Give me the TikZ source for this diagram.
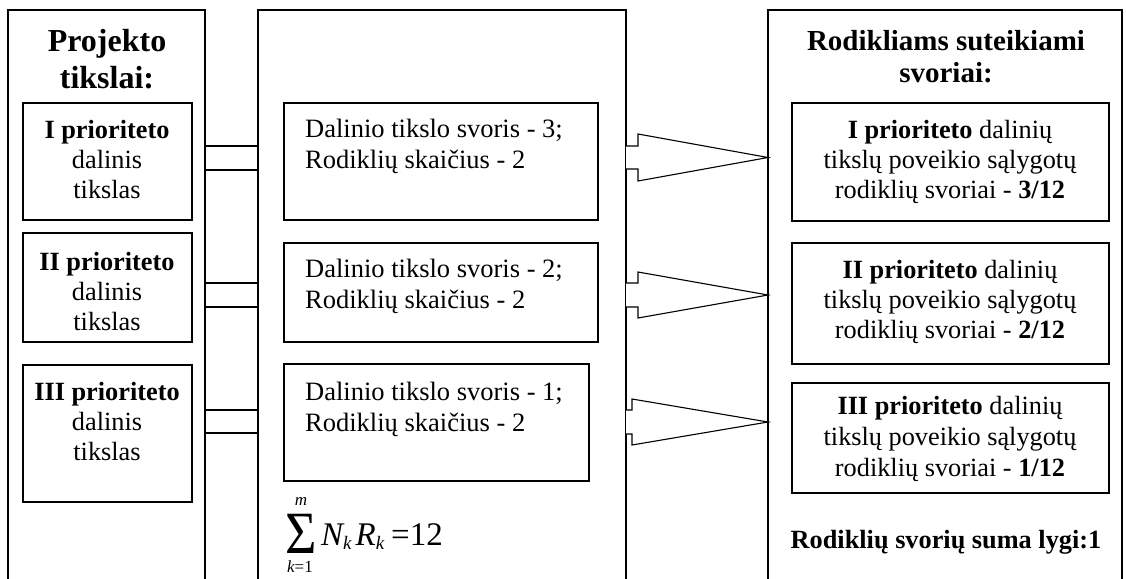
\documentclass[tikz,border=0pt]{standalone}
\usepackage{fontspec}
\setmainfont{Liberation Serif}
\usepackage{graphicx}
\usetikzlibrary{fit,calc}

\tikzset{
  x=1pt, y=-1pt,
  rule/.style={draw=black, line width=1.1pt, line join=miter},
  panel/.style={draw=none, inner sep=0pt, outer sep=0pt},
  cell/.style={rule, inner sep=0pt, outer sep=0pt},
  headtext/.style={inner sep=0pt, anchor=base, align=center, font=\fontsize{32}{36}\selectfont\bfseries},
  righthead/.style={inner sep=0pt, anchor=base, align=center, font=\fontsize{29}{32}\selectfont\bfseries},
  celltext/.style={inner sep=0pt, anchor=base, align=center, font=\fontsize{26.3}{30}\selectfont},
  midtext/.style={inner sep=0pt, anchor=base west, align=left, font=\fontsize{26.5}{31}\selectfont},
  blockshape/.style={rule, fill=white},
}

% block arrow: from panel #1 to panel #2; stem y #3..#4, head y #5..#6, neck offset #7
\newcommand\blockarrow[7]{%
  \draw[blockshape] (#1.east |- 0,#3)
    -- ($(#1.east |- 0,#3)+(#7,0)$)
    -- ($(#1.east |- 0,#5)+(#7,0)$)
    -- ($(#2.west |- 0,#5)!.5!(#2.west |- 0,#6)$)
    -- ($(#1.east |- 0,#6)+(#7,0)$)
    -- ($(#1.east |- 0,#4)+(#7,0)$)
    -- (#1.east |- 0,#4);%
}

\begin{document}
\begin{tikzpicture}
\useasboundingbox (0,0) rectangle (1126,578);
\clip (0,0) rectangle (1126,578);
\fill[white] (0,0) rectangle (1126,578);

% three open-bottomed panels
\node[panel, fit={(8,10) (205,600)}] (goals) {};
\node[panel, fit={(258,10) (626,600)}] (calc) {};
\node[panel, fit={(768,10) (1122,600)}] (weights) {};
\foreach \p in {goals,calc,weights}
  \draw[rule] (\p.south west) -- (\p.north west) -- (\p.north east) -- (\p.south east);

% left column (node base = baseline of the last line)
\node[headtext] (goalshead) at (107,88) {Projekto\\tikslai:};
\node[cell, fit={(23,103) (192,220)}] (g1) {};
\node[cell, fit={(23,233) (192,342)}] (g2) {};
\node[cell, fit={(23,365) (192,502)}] (g3) {};
\node[celltext] (g1t) at (107,198) {\textbf{I prioriteto}\\dalinis\\tikslas};
\node[celltext] (g2t) at (107,330) {\textbf{II prioriteto}\\dalinis\\tikslas};
\node[celltext] (g3t) at (107,460) {\textbf{III prioriteto}\\dalinis\\tikslas};

% middle column
\node[cell, fit={(284,103) (598,220)}] (c1) {};
\node[cell, fit={(284,243) (598,342)}] (c2) {};
\node[cell, fit={(284,364) (589,481)}] (c3) {};
\node[midtext] (c1t) at (305,168) {Dalinio tikslo svoris - 3;\\Rodiklių skaičius - 2};
\node[midtext] (c2t) at (305,308) {Dalinio tikslo svoris - 2;\\Rodiklių skaičius - 2};
\node[midtext] (c3t) at (305,431) {Dalinio tikslo svoris - 1;\\Rodiklių skaičius - 2};

% sum formula
\node[inner sep=0pt, anchor=base] (sigma) at (301,553)
  {\fontsize{60}{60}\selectfont\scalebox{0.9}[1]{Σ}};
\node[inner sep=0pt, anchor=base] (supm) at (301,505)
  {\fontsize{17}{17}\selectfont\itshape m};
\node[inner sep=0pt, anchor=base] (subk) at (300,572)
  {\fontsize{17}{17}\selectfont\itshape k\upshape =1};
\node[inner sep=0pt, anchor=base west] (sumbody) at (321,545)
  {\fontsize{33}{33}\selectfont\itshape N\raisebox{-4pt}{\fontsize{19}{19}\selectfont k}\kern4pt
   R\raisebox{-4pt}{\fontsize{19}{19}\selectfont k}\kern7pt\upshape =12};

% right column
\node[righthead] (weightshead) at (946,82) {Rodikliams suteikiami\\svoriai:};
\node[cell, fit={(792,103) (1109,221)}] (w1) {};
\node[cell, fit={(792,243) (1109,364)}] (w2) {};
\node[cell, fit={(792,383) (1109,493)}] (w3) {};
\node[celltext] (w1t) at (950,198)
  {\textbf{I prioriteto} dalinių\\tikslų poveikio sąlygotų\\rodiklių svoriai - \textbf{3/12}};
\node[celltext] (w2t) at (950,338)
  {\textbf{II prioriteto} dalinių\\tikslų poveikio sąlygotų\\rodiklių svoriai - \textbf{2/12}};
\node[celltext, font=\fontsize{26.3}{31}\selectfont] (w3t) at (950,476)
  {\textbf{III prioriteto} dalinių\\tikslų poveikio sąlygotų\\rodiklių svoriai - \textbf{1/12}};
\node[celltext] (wsum) at (946,548) {\textbf{Rodiklių svorių suma lygi:1}};

% double-line links between the left and middle panels
\foreach \ya/\yb in {146/170, 283/307, 410/433} {
  \draw[rule] (goals.east |- 0,\ya) -- (calc.west |- 0,\ya);
  \draw[rule] (goals.east |- 0,\yb) -- (calc.west |- 0,\yb);
}

% block arrows between the middle and right panels
\blockarrow{calc}{weights}{146}{169}{134}{181}{12}
\blockarrow{calc}{weights}{283}{307}{272}{318}{12}
\blockarrow{calc}{weights}{410}{434}{399}{445}{6}
\end{tikzpicture}
\end{document}
